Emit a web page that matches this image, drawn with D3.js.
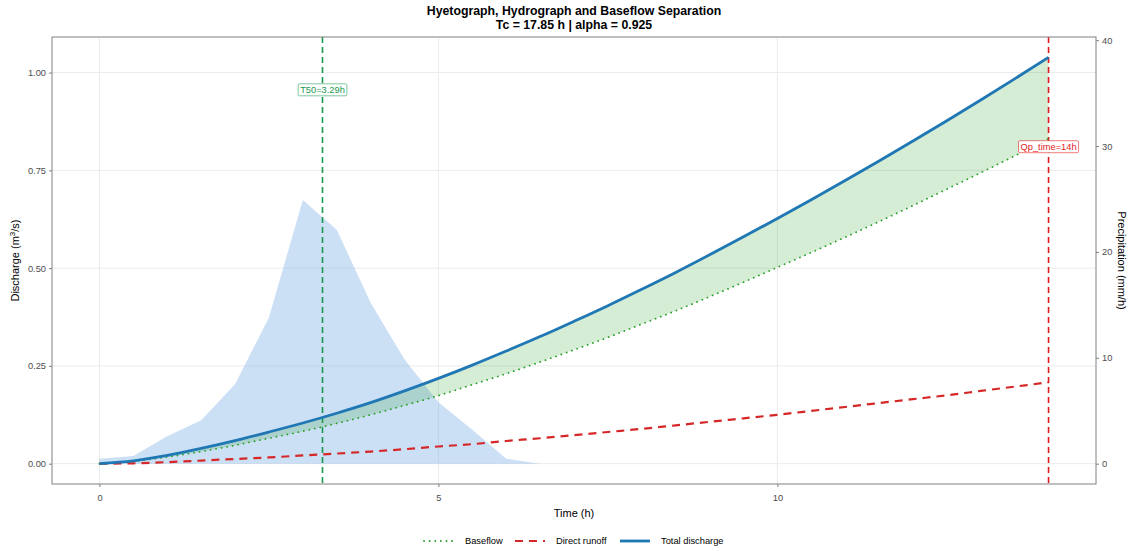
<!DOCTYPE html>
<html>
<head>
<meta charset="utf-8">
<script src="https://cdn.jsdelivr.net/npm/d3@7"></script>
<style>
  html, body { margin: 0; padding: 0; background: #fff; }
  svg { display: block; font-family: "Liberation Sans", Arial, sans-serif; }
</style>
</head>
<body>
<svg id="chart" width="1128" height="551"></svg>
<script>
// Time steps (h) for the hydrograph
const timeH = [0, 0.5, 1, 1.5, 2, 2.5, 3, 3.5, 4, 4.5, 5, 5.5, 6, 6.5, 7,
               7.5, 8, 8.5, 9, 9.5, 10, 10.5, 11, 11.5, 12, 12.5, 13, 13.5, 14];
// Total discharge (m3/s)
const totalQ = [0, 0.007, 0.021, 0.039, 0.059, 0.081, 0.104, 0.129, 0.156, 0.186,
                0.218, 0.252, 0.288, 0.325, 0.364, 0.404, 0.446, 0.489, 0.534, 0.580,
                0.627, 0.675, 0.724, 0.774, 0.825, 0.877, 0.930, 0.984, 1.039];
// Baseflow (m3/s)
const baseflowQ = [0, 0.006, 0.017, 0.031, 0.047, 0.065, 0.083, 0.103, 0.125, 0.149,
                   0.174, 0.202, 0.230, 0.260, 0.291, 0.323, 0.357, 0.391, 0.427, 0.464,
                   0.502, 0.540, 0.579, 0.619, 0.660, 0.702, 0.744, 0.787, 0.831];
// Direct runoff (m3/s)
const directQ = [0, 0.001, 0.004, 0.008, 0.012, 0.016, 0.021, 0.026, 0.031, 0.037,
                 0.044, 0.050, 0.058, 0.065, 0.073, 0.081, 0.089, 0.098, 0.107, 0.116,
                 0.125, 0.135, 0.145, 0.155, 0.165, 0.175, 0.186, 0.197, 0.208];
// Hyetograph (mm/h)
const rainTime = [0, 0.5, 1, 1.5, 2, 2.5, 3, 3.5, 4, 4.5, 5, 5.5, 6, 6.5];
const rainMMh  = [0.47, 0.72, 2.6, 4.1, 7.5, 13.8, 24.9, 22.1, 15.2, 9.85, 5.8, 3.2, 0.47, 0.0];

// Marker times
const t50 = 3.29;
const qpTime = 14;

// Tick labels
const xTicks = [0, 5, 10];
const yTicks = [0, 0.25, 0.5, 0.75, 1.0];
const y2Ticks = [0, 10, 20, 30, 40];

const legendItems = ["Baseflow", "Direct runoff", "Total discharge"];

// Conversion from precipitation (mm/h) to the discharge axis
const rainToQ = 0.02707;

const svg = d3.select("#chart");
const panel = { left: 52, right: 1096, top: 37, bottom: 484 };

const qMax = d3.max(totalQ);
const x = d3.scaleLinear().domain([-0.7, 14.7]).range([panel.left, panel.right]);
const y = d3.scaleLinear().domain([-0.05 * qMax, qMax * 1.05]).range([panel.bottom, panel.top]);
const y2 = d3.scaleLinear().domain(y.domain().map(v => v / rainToQ)).range([panel.bottom, panel.top]);

const grid = "#ebebeb";
const tickCol = "#4d4d4d";
const blue = "#1f77b4", red = "#d62728", green = "#2ca02c";
const vGreen = "#1a9850", vRed = "#e31a1c";

// Grid lines
const g = svg.append("g");
g.selectAll("line.gx").data(xTicks).join("line")
  .attr("x1", d => x(d)).attr("x2", d => x(d))
  .attr("y1", panel.top).attr("y2", panel.bottom)
  .attr("stroke", grid).attr("stroke-width", 1);
g.selectAll("line.gy").data(yTicks).join("line")
  .attr("x1", panel.left).attr("x2", panel.right)
  .attr("y1", d => y(d)).attr("y2", d => y(d))
  .attr("stroke", grid).attr("stroke-width", 1);

// Hyetograph
const rain = rainTime.map((t, i) => ({ t, p: rainMMh[i] }));
svg.append("path").datum(rain)
  .attr("d", d3.area().x(d => x(d.t)).y0(y2(0)).y1(d => y2(d.p)))
  .attr("fill", "#7eb0e6").attr("fill-opacity", 0.4);

const flow = timeH.map((t, i) => ({ t, total: totalQ[i], base: baseflowQ[i], direct: directQ[i] }));

// Direct runoff band between baseflow and total discharge
svg.append("path").datum(flow)
  .attr("d", d3.area().x(d => x(d.t)).y0(d => y(d.base)).y1(d => y(d.total)).curve(d3.curveMonotoneX))
  .attr("fill", green).attr("fill-opacity", 0.2);

// Marker lines
svg.append("line")
  .attr("x1", x(t50)).attr("x2", x(t50)).attr("y1", panel.top).attr("y2", panel.bottom)
  .attr("stroke", vGreen).attr("stroke-width", 1.6).attr("stroke-dasharray", "6,4");
svg.append("line")
  .attr("x1", x(qpTime)).attr("x2", x(qpTime)).attr("y1", panel.top).attr("y2", panel.bottom)
  .attr("stroke", vRed).attr("stroke-width", 1.6).attr("stroke-dasharray", "6,4");

// Series lines
const line = key => d3.line().x(d => x(d.t)).y(d => y(d[key])).curve(d3.curveMonotoneX);
svg.append("path").datum(flow).attr("d", line("base"))
  .attr("fill", "none").attr("stroke", green).attr("stroke-width", 1.8)
  .attr("stroke-linecap", "round").attr("stroke-dasharray", "0.1,5.5");
svg.append("path").datum(flow).attr("d", line("direct"))
  .attr("fill", "none").attr("stroke", red).attr("stroke-width", 2.2)
  .attr("stroke-dasharray", "8,6");
svg.append("path").datum(flow).attr("d", line("total"))
  .attr("fill", "none").attr("stroke", blue).attr("stroke-width", 2.8);

// Marker labels
function markerLabel(cx, cy, text, col) {
  const lg = svg.append("g");
  const t = lg.append("text").attr("x", cx).attr("y", cy)
    .attr("text-anchor", "middle").attr("dominant-baseline", "central")
    .attr("font-size", 9.3).attr("fill", col).text(text);
  const bb = t.node().getBBox();
  lg.insert("rect", "text")
    .attr("x", bb.x - 2).attr("y", cy - 6).attr("width", bb.width + 4).attr("height", 12)
    .attr("rx", 1.5).attr("fill", "#fff").attr("stroke", col).attr("stroke-opacity", 0.7)
    .attr("stroke-width", 0.8);
}
markerLabel(x(t50), y(qMax * 0.92), "T50=" + t50 + "h", vGreen);
markerLabel(x(qpTime), y(qMax * 0.78), "Qp_time=" + qpTime + "h", vRed);

// Panel border
svg.append("rect")
  .attr("x", panel.left).attr("y", panel.top)
  .attr("width", panel.right - panel.left).attr("height", panel.bottom - panel.top)
  .attr("fill", "none").attr("stroke", "#808080").attr("stroke-width", 1);

// Axes
const axisStyle = sel => {
  sel.select(".domain").remove();
  sel.selectAll(".tick line").attr("stroke", "#808080");
  sel.selectAll(".tick text").attr("fill", tickCol).attr("font-size", 9.3)
     .attr("font-family", "Liberation Sans, Arial, sans-serif");
};
svg.append("g").attr("transform", `translate(0,${panel.bottom})`)
  .call(d3.axisBottom(x).tickValues(xTicks).tickFormat(d3.format("d")).tickSize(3).tickPadding(7))
  .call(axisStyle);
svg.append("g").attr("transform", `translate(${panel.left},0)`)
  .call(d3.axisLeft(y).tickValues(yTicks).tickFormat(d3.format(".2f")).tickSize(3).tickPadding(3))
  .call(axisStyle);
svg.append("g").attr("transform", `translate(${panel.right},0)`)
  .call(d3.axisRight(y2).tickValues(y2Ticks).tickFormat(d3.format("d")).tickSize(3).tickPadding(3))
  .call(axisStyle);

// Axis titles
const midY = (panel.top + panel.bottom) / 2;
const midX = (panel.left + panel.right) / 2;
svg.append("text").attr("x", midX).attr("y", 517).attr("text-anchor", "middle")
  .attr("font-size", 11).attr("fill", "#000").text("Time (h)");
const yl = svg.append("text").attr("transform", `translate(19,${midY}) rotate(-90)`)
  .attr("text-anchor", "middle").attr("font-size", 11).attr("fill", "#000");
yl.append("tspan").text("Discharge (m");
yl.append("tspan").attr("dy", -4).attr("font-size", 8).text("3");
yl.append("tspan").attr("dy", 4).text("/s)");
svg.append("text").attr("transform", `translate(1118,${midY}) rotate(90)`)
  .attr("text-anchor", "middle").attr("font-size", 11).attr("fill", "#000")
  .text("Precipitation (mm/h)");

// Title
svg.append("text").attr("x", midX).attr("y", 15).attr("text-anchor", "middle")
  .attr("font-size", 12.3).attr("font-weight", "bold").attr("fill", "#000")
  .text("Hyetograph, Hydrograph and Baseflow Separation");
svg.append("text").attr("x", midX).attr("y", 29).attr("text-anchor", "middle")
  .attr("font-size", 12.3).attr("font-weight", "bold").attr("fill", "#000")
  .text("Tc = 17.85 h | alpha = 0.925");

// Legend
const legendStyles = [
  { col: green, w: 1.8, dash: "0.1,5.5", cap: "round" },
  { col: red, w: 2.2, dash: "8,6", cap: "butt" },
  { col: blue, w: 2.8, dash: null, cap: "butt" }
];
const legendX = [424, 515, 620];
const ly = 541;
legendItems.forEach((name, i) => {
  const s = legendStyles[i];
  svg.append("line").attr("x1", legendX[i]).attr("x2", legendX[i] + 30)
    .attr("y1", ly).attr("y2", ly)
    .attr("stroke", s.col).attr("stroke-width", s.w)
    .attr("stroke-linecap", s.cap).attr("stroke-dasharray", s.dash);
  svg.append("text").attr("x", legendX[i] + 41).attr("y", ly)
    .attr("dominant-baseline", "central").attr("font-size", 9.3).attr("fill", "#000")
    .text(name);
});
</script>
</body>
</html>
